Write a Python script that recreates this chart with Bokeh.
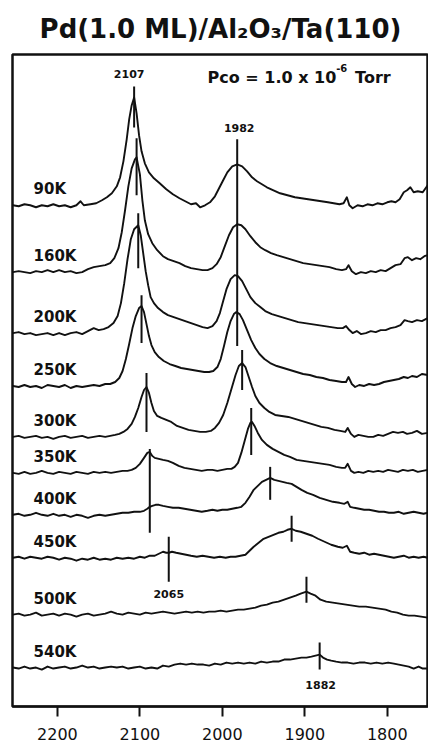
from bokeh.plotting import figure
from bokeh.models import Range1d, FixedTicker, ColumnDataSource
from bokeh.core.properties import value
from bokeh.embed import file_html
from bokeh.resources import INLINE

# IR spectra of CO on Pd(1.0 ML)/Al2O3/Ta(110): (wavenumber cm-1, absorbance in display units above each baseline)
TEMPS = ["90K", "160K", "200K", "250K", "300K", "350K", "400K", "450K", "500K", "540K"]

T90 = [(2254, 0), (2247, -1), (2240, 1), (2233, 0), (2226, -2), (2219, 0), (2212, -1), (2205, 1), (2198, -1),
       (2191, 0), (2184, -2), (2177, 0), (2172, 4), (2168, 0), (2160, 1), (2153, 2), (2146, 5), (2140, 8),
       (2134, 12), (2128, 19), (2124, 28), (2120, 44), (2116, 66), (2113, 86), (2110, 100), (2107, 108),
       (2104, 92), (2101, 70), (2098, 54), (2094, 42), (2089, 33), (2083, 27), (2076, 22), (2068, 16),
       (2060, 11), (2052, 7), (2045, 4), (2038, 1), (2032, 2), (2027, -2), (2021, 0), (2015, 3), (2009, 9),
       (2004, 17), (1999, 25), (1994, 33), (1988, 39), (1982, 41), (1976, 39), (1970, 34), (1964, 28),
       (1958, 24), (1952, 21), (1946, 18), (1938, 15), (1930, 12), (1921, 10), (1912, 8), (1904, 7),
       (1896, 6), (1888, 5), (1880, 4), (1872, 3), (1865, 2), (1858, 1), (1853, 2), (1849, 8), (1846, 0),
       (1842, -3), (1836, 0), (1830, -1), (1824, 1), (1818, 0), (1812, 2), (1806, 1), (1800, 3), (1795, 4),
       (1790, 3), (1785, 6), (1780, 13), (1776, 15), (1772, 18), (1768, 13), (1763, 14), (1757, 13),
       (1751, 20)]

T160 = [(2254, 0), (2247, 1), (2240, 0), (2233, -1), (2226, 1), (2219, 0), (2212, 2), (2205, 0), (2198, 2),
        (2191, 0), (2184, 1), (2177, -1), (2170, 0), (2163, 3), (2156, 5), (2149, 6), (2142, 7), (2136, 9),
        (2131, 14), (2126, 24), (2122, 40), (2118, 62), (2114, 86), (2110, 104), (2106, 113), (2104, 115),
        (2100, 98), (2097, 72), (2094, 52), (2090, 38), (2085, 29), (2079, 22), (2072, 16), (2066, 13),
        (2059, 11), (2052, 9), (2045, 6), (2038, 4), (2031, 3), (2024, 2), (2018, 2), (2012, 4), (2007, 8),
        (2002, 15), (1997, 26), (1992, 37), (1987, 45), (1982, 48), (1977, 47), (1972, 43), (1966, 36),
        (1960, 30), (1954, 25), (1948, 22), (1941, 19), (1934, 17), (1926, 15), (1918, 13), (1910, 11),
        (1902, 9), (1894, 8), (1886, 7), (1878, 6), (1870, 5), (1862, 3), (1855, 2), (1850, 3), (1847, 7),
        (1843, 1), (1838, -2), (1832, 0), (1826, -1), (1820, 1), (1814, 0), (1808, 2), (1802, 1), (1796, 4),
        (1790, 7), (1784, 8), (1779, 14), (1775, 15), (1770, 12), (1765, 14), (1760, 13), (1755, 16),
        (1751, 17)]

T200 = [(2254, 0), (2247, 1), (2240, -1), (2233, 0), (2226, -2), (2219, -1), (2212, 0), (2205, -2), (2198, 0),
        (2191, -2), (2184, 0), (2177, 1), (2170, -1), (2163, 2), (2156, 5), (2150, 3), (2144, 4), (2138, 6),
        (2132, 10), (2127, 17), (2123, 30), (2119, 50), (2115, 74), (2111, 94), (2107, 104), (2102, 108),
        (2099, 98), (2096, 80), (2093, 62), (2090, 48), (2087, 36), (2083, 30), (2078, 25), (2072, 21),
        (2066, 18), (2059, 16), (2052, 14), (2045, 12), (2038, 10), (2031, 8), (2024, 6), (2018, 5),
        (2012, 7), (2007, 12), (2003, 20), (1999, 32), (1995, 44), (1990, 54), (1985, 58), (1981, 57),
        (1976, 52), (1971, 44), (1966, 36), (1960, 30), (1954, 26), (1948, 22), (1940, 19), (1932, 17),
        (1924, 15), (1916, 13), (1908, 11), (1900, 10), (1892, 9), (1884, 8), (1876, 7), (1868, 6),
        (1860, 5), (1854, 5), (1850, 7), (1846, 3), (1842, 0), (1837, 2), (1832, -1), (1826, 0), (1820, 2),
        (1814, 1), (1808, 3), (1802, 3), (1796, 5), (1790, 6), (1784, 8), (1779, 13), (1775, 12),
        (1770, 11), (1764, 13), (1758, 12), (1751, 15)]

T250 = [(2254, 0), (2247, -1), (2240, 1), (2233, -1), (2226, 0), (2219, -2), (2212, 1), (2205, 0), (2198, -1),
        (2191, 1), (2184, -2), (2177, 0), (2170, -1), (2163, 0), (2156, 1), (2149, 0), (2142, 2), (2136, 2),
        (2130, 4), (2125, 8), (2121, 15), (2117, 27), (2113, 42), (2109, 58), (2105, 70), (2101, 78),
        (2098, 80), (2095, 74), (2092, 62), (2089, 50), (2086, 41), (2082, 34), (2077, 29), (2071, 25),
        (2064, 22), (2057, 20), (2050, 18), (2043, 17), (2036, 16), (2029, 15), (2022, 14), (2016, 14),
        (2011, 15), (2006, 19), (2002, 27), (1998, 40), (1994, 54), (1990, 65), (1986, 72), (1983, 74),
        (1979, 72), (1975, 66), (1970, 56), (1965, 46), (1960, 38), (1955, 32), (1949, 27), (1942, 23),
        (1934, 20), (1926, 18), (1918, 16), (1910, 14), (1902, 12), (1894, 11), (1886, 9), (1878, 8),
        (1870, 6), (1862, 5), (1855, 4), (1850, 4), (1847, 9), (1843, 2), (1839, -1), (1834, 1), (1828, 0),
        (1822, 2), (1816, 1), (1810, 2), (1804, 4), (1798, 5), (1792, 6), (1786, 7), (1780, 9), (1775, 8),
        (1770, 10), (1764, 9), (1758, 12), (1751, 11)]

T300 = [(2254, 0), (2247, 1), (2240, -1), (2233, 0), (2226, 1), (2219, -1), (2212, 0), (2205, -2), (2198, 0),
        (2191, 1), (2184, -1), (2177, 0), (2170, 1), (2163, -1), (2156, 0), (2149, 1), (2142, 0), (2136, 1),
        (2130, 2), (2125, 3), (2120, 5), (2115, 8), (2110, 13), (2106, 20), (2102, 29), (2098, 40),
        (2095, 47), (2092, 50), (2089, 44), (2086, 34), (2083, 26), (2079, 21), (2074, 19), (2068, 17),
        (2062, 15), (2055, 11), (2048, 9), (2041, 7), (2034, 6), (2027, 5), (2020, 5), (2014, 6), (2009, 9),
        (2004, 14), (1999, 22), (1994, 34), (1989, 48), (1984, 62), (1980, 71), (1976, 74), (1972, 70),
        (1968, 60), (1964, 50), (1960, 41), (1955, 34), (1949, 29), (1943, 25), (1936, 22), (1928, 21),
        (1920, 20), (1912, 18), (1904, 16), (1896, 14), (1888, 12), (1880, 10), (1872, 9), (1864, 7),
        (1857, 6), (1851, 5), (1848, 9), (1844, 3), (1840, 0), (1835, 2), (1829, 1), (1823, 0), (1817, 0),
        (1811, 2), (1805, 1), (1799, 3), (1793, 5), (1787, 4), (1781, 5), (1776, 3), (1770, 4), (1764, 6),
        (1758, 3), (1751, 4)]

T350 = [(2254, 0), (2247, -1), (2240, 1), (2233, -1), (2226, 0), (2219, 2), (2212, 0), (2205, -1), (2198, 1),
        (2191, 0), (2184, -1), (2177, 1), (2170, 0), (2163, -1), (2156, 1), (2149, 0), (2142, 1), (2135, 0),
        (2128, 1), (2121, 2), (2115, 2), (2110, 3), (2105, 5), (2100, 9), (2095, 15), (2091, 20),
        (2088, 21), (2085, 17), (2082, 15), (2077, 14), (2072, 13), (2066, 12), (2060, 10), (2053, 7),
        (2046, 5), (2039, 4), (2032, 3), (2025, 2), (2018, 3), (2012, 3), (2006, 2), (2000, 3), (1994, 4),
        (1989, 4), (1985, 6), (1981, 10), (1977, 20), (1973, 32), (1969, 44), (1966, 50), (1964, 51),
        (1961, 47), (1957, 40), (1952, 33), (1946, 28), (1939, 24), (1932, 21), (1925, 18), (1918, 16),
        (1910, 13), (1902, 12), (1894, 11), (1886, 10), (1878, 9), (1870, 8), (1862, 6), (1855, 5),
        (1851, 5), (1848, 9), (1844, 2), (1840, 0), (1835, 1), (1829, 0), (1823, 2), (1817, 1), (1811, 2),
        (1805, 1), (1799, 3), (1793, 2), (1787, 1), (1781, 3), (1775, 2), (1769, 3), (1763, 1), (1757, 2),
        (1751, 3)]

T400 = [(2254, 0), (2247, 1), (2240, -1), (2233, 0), (2226, 2), (2219, 0), (2212, -1), (2205, 1), (2198, -1),
        (2191, 0), (2184, -2), (2177, 0), (2170, -1), (2163, -3), (2156, -1), (2149, 0), (2142, -1),
        (2135, 0), (2128, 1), (2121, 2), (2114, 2), (2107, 3), (2100, 3), (2095, 4), (2091, 6), (2088, 8),
        (2085, 9), (2081, 10), (2077, 10), (2072, 9), (2066, 8), (2060, 7), (2053, 7), (2046, 6), (2039, 5),
        (2032, 4), (2025, 3), (2018, 4), (2012, 5), (2006, 4), (2000, 5), (1994, 5), (1988, 6), (1982, 7),
        (1977, 8), (1972, 12), (1967, 18), (1962, 25), (1957, 29), (1952, 33), (1947, 35), (1942, 37),
        (1937, 35), (1932, 34), (1927, 33), (1922, 32), (1916, 31), (1910, 28), (1904, 25), (1897, 22),
        (1890, 20), (1882, 17), (1874, 15), (1866, 13), (1858, 12), (1852, 11), (1848, 13), (1845, 8),
        (1840, 7), (1834, 6), (1828, 5), (1822, 5), (1816, 4), (1810, 3), (1804, 3), (1798, 2), (1792, 2),
        (1786, 3), (1780, 1), (1774, 2), (1768, 3), (1762, 2), (1756, 1), (1751, 2)]

T450 = [(2254, 0), (2247, 1), (2240, -1), (2233, 1), (2226, 0), (2219, -1), (2212, 1), (2205, 0), (2198, -2),
        (2191, 0), (2184, -1), (2177, -3), (2170, -1), (2163, -2), (2156, 0), (2149, -2), (2142, -1),
        (2135, -2), (2128, 0), (2121, -1), (2114, 0), (2107, -1), (2100, 1), (2094, 0), (2088, 2), (2082, 2),
        (2077, 4), (2072, 6), (2068, 5), (2065, 5), (2061, 6), (2056, 5), (2050, 4), (2044, 3), (2038, 2),
        (2031, 1), (2024, 2), (2017, 1), (2010, 0), (2003, 1), (1996, 0), (1990, 1), (1984, 1), (1978, 2),
        (1972, 3), (1967, 7), (1962, 11), (1956, 15), (1950, 19), (1944, 21), (1938, 23), (1932, 25),
        (1926, 26), (1921, 28), (1916, 29), (1911, 27), (1905, 26), (1898, 24), (1891, 22), (1884, 19),
        (1876, 16), (1868, 13), (1860, 11), (1854, 10), (1849, 12), (1845, 6), (1840, 5), (1834, 4),
        (1828, 5), (1822, 3), (1816, 4), (1810, 3), (1804, 2), (1798, 1), (1792, 0), (1786, 1), (1780, 2),
        (1774, 0), (1768, 1), (1762, 0), (1756, 1), (1751, 0)]

T500 = [(2254, 0), (2247, 1), (2240, -1), (2233, 0), (2226, 2), (2219, -1), (2212, 0), (2205, 1), (2198, -1),
        (2191, 1), (2184, 0), (2177, -2), (2170, 0), (2163, 1), (2156, -1), (2149, 0), (2142, 1), (2135, 3),
        (2128, 1), (2121, 0), (2114, 2), (2107, 1), (2100, 0), (2093, 2), (2086, 1), (2079, 2), (2072, 3),
        (2065, 2), (2058, 1), (2051, 2), (2044, 3), (2037, 2), (2030, 3), (2023, 2), (2016, 3), (2009, 3),
        (2002, 4), (1995, 3), (1988, 4), (1981, 5), (1974, 5), (1967, 6), (1960, 7), (1953, 9), (1946, 10),
        (1939, 12), (1932, 13), (1925, 15), (1918, 17), (1911, 19), (1905, 21), (1898, 23), (1893, 21),
        (1887, 19), (1881, 15), (1874, 13), (1866, 12), (1858, 11), (1850, 10), (1842, 9), (1834, 8),
        (1826, 8), (1818, 7), (1810, 6), (1802, 5), (1795, 3), (1788, 2), (1781, 0), (1774, -1), (1767, -1),
        (1759, -2), (1751, -3)]

T540 = [(2254, 0), (2247, -1), (2240, 1), (2233, -1), (2226, 0), (2219, -2), (2212, 1), (2205, -1), (2198, 0),
        (2191, 1), (2184, -1), (2177, 0), (2170, 2), (2163, 0), (2156, 1), (2149, -1), (2142, 0), (2135, 1),
        (2128, 0), (2121, 1), (2114, -1), (2107, 0), (2100, 1), (2093, -1), (2086, 0), (2079, -1), (2072, 2),
        (2065, 1), (2058, 3), (2051, 4), (2044, 3), (2037, 4), (2030, 3), (2023, 3), (2016, 2), (2009, 4),
        (2002, 3), (1995, 5), (1988, 4), (1981, 5), (1974, 4), (1967, 5), (1960, 4), (1953, 6), (1946, 5),
        (1939, 6), (1932, 6), (1925, 8), (1918, 8), (1911, 9), (1904, 10), (1898, 10), (1892, 11),
        (1887, 12), (1882, 13), (1878, 10), (1873, 8), (1868, 7), (1862, 6), (1855, 5), (1848, 5),
        (1841, 4), (1834, 5), (1827, 5), (1820, 4), (1813, 5), (1806, 4), (1799, 5), (1792, 4), (1786, 3),
        (1780, 2), (1774, 1), (1768, -1), (1762, 1), (1757, -1), (1751, -1)]

SPECTRA = [T90, T160, T200, T250, T300, T350, T400, T450, T500, T540]

# peak-position bars (cm-1) and the peak values printed beside some of them
PEAK_BARS = [2107, 2104, 2102, 2098, 2092, 2088, 2065, 1982, 1976, 1965, 1942, 1916, 1898, 1882]
PEAK_TEXT = ["2107", "1982", "2065", "1882"]
PEAK_TEXT_AT = [2107, 1982, 2065, 1882]

TICKS = [2200, 2100, 2000, 1900, 1800]

# ---- layout: vertical stacking of spectra, bar extents, text placement ----
OFFSETS = [502, 435, 374, 321, 270, 234, 192, 149, 92, 39]
BAR_LO = [580, 512, 439, 364, 275, 174, 125, 361, 317, 252, 207, 165, 104, 37]
BAR_HI = [621, 569, 494, 412, 334, 258, 170, 568, 357, 299, 240, 191, 130, 64]
PEAK_TEXT_Y = [633, 579, 113, 22]
PEAK_TEXT_DX = [-5, 2, 0, 1]
LABEL_X = 2229
LABEL_DY = 16

FONT = "DejaVu Sans"
INK = "#111111"

p = figure(width=428, height=742,
           x_range=Range1d(2254.5, 1750), y_range=Range1d(0, 653),
           output_backend="svg", toolbar_location=None,
           min_border_left=12, min_border_right=0, min_border_top=5, min_border_bottom=0)

p.title.text = "Pd(1.0 ML)/Al\u2082O\u2083/Ta(110)"
p.title.align = "center"
p.title.text_font = FONT
p.title.text_font_size = "26px"
p.title.text_font_style = "bold"
p.title.text_color = INK
p.title.standoff = 22

p.grid.visible = False
p.yaxis.visible = False
p.background_fill_color = "white"
p.border_fill_color = "white"
p.outline_line_color = INK
p.outline_line_width = 2.5
p.outline_line_alpha = 1

ax = p.xaxis[0]
ax.ticker = FixedTicker(ticks=TICKS)
ax.axis_line_color = INK
ax.axis_line_width = 2
ax.major_tick_line_color = INK
ax.major_tick_line_width = 2
ax.major_tick_in = 0
ax.major_tick_out = 10
ax.minor_tick_line_color = None
ax.major_label_standoff = 11
ax.major_label_text_font = FONT
ax.major_label_text_font_size = "16px"
ax.major_label_text_color = INK

# spectra
for spec, off in zip(SPECTRA, OFFSETS):
    src = ColumnDataSource(dict(x=[w for w, _ in spec], y=[off + a for _, a in spec]))
    p.line("x", "y", source=src, line_color=INK, line_width=1.9, line_join="round")

# peak bars
p.segment(x0=PEAK_BARS, y0=BAR_LO, x1=PEAK_BARS, y1=BAR_HI, line_color=INK, line_width=2)

# temperature labels
p.text(x=[LABEL_X] * len(TEMPS), y=[o + LABEL_DY for o in OFFSETS], text=TEMPS,
       text_font=value(FONT), text_font_style="bold", text_font_size="15px",
       text_color=INK, text_align="left", text_baseline="middle")

# peak value labels
for t, xw, yv, dx in zip(PEAK_TEXT, PEAK_TEXT_AT, PEAK_TEXT_Y, PEAK_TEXT_DX):
    p.text(x=[xw], y=[yv], text=[t], x_offset=dx,
           text_font=value(FONT), text_font_style="bold", text_font_size="11px",
           text_color=INK, text_align="center", text_baseline="middle")

# CO pressure note
p.text(x=[2018], y=[630], text=["Pco = 1.0 x 10"], text_font=value(FONT), text_font_style="bold",
       text_font_size="16px", text_color=INK, text_align="left", text_baseline="middle")
p.text(x=[1862], y=[639], text=["-6"], text_font=value(FONT), text_font_style="bold",
       text_font_size="10px", text_color=INK, text_align="left", text_baseline="middle")
p.text(x=[1839], y=[630], text=["Torr"], text_font=value(FONT), text_font_style="bold",
       text_font_size="16px", text_color=INK, text_align="left", text_baseline="middle")

open("out.html", "w").write(file_html(p, INLINE))
